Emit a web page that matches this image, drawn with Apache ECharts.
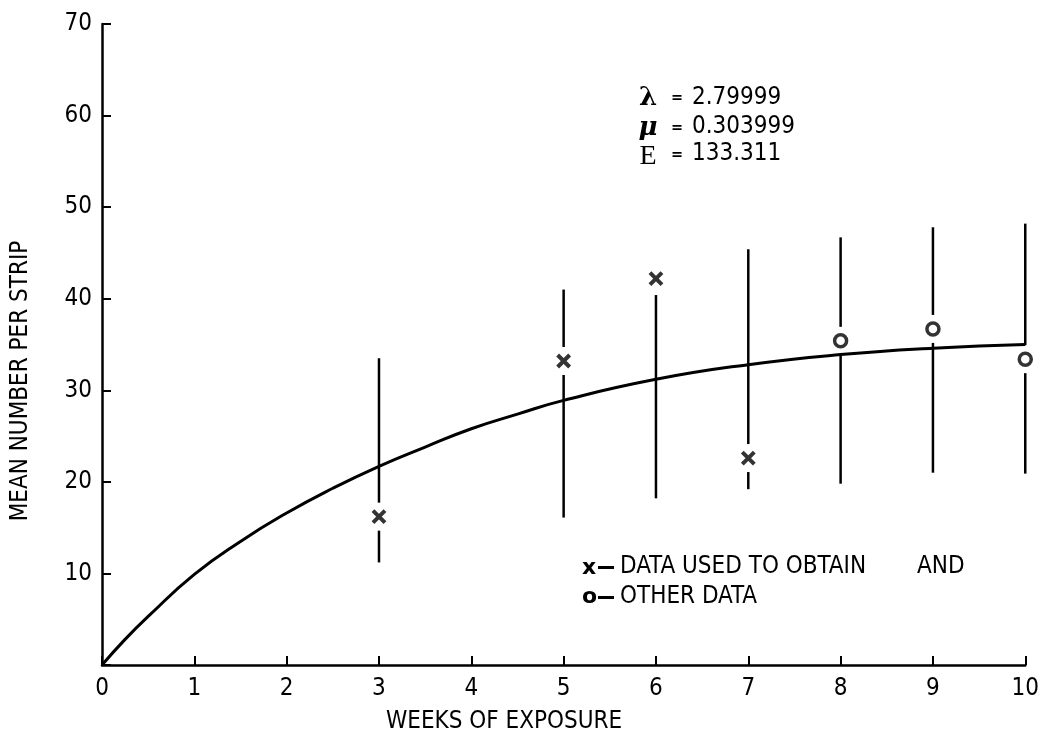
<!DOCTYPE html>
<html>
<head>
<meta charset="utf-8">
<script src="https://cdn.jsdelivr.net/npm/echarts@6/dist/echarts.min.js"></script>
<style>
  html, body { margin: 0; padding: 0; background: #fff; }
  #chart { width: 1042px; height: 742px; }
</style>
</head>
<body>
<div id="chart"></div>
<script>
// fitted curve
const curveWeeks = [0, 0.25, 0.5, 1, 1.5, 2, 2.5, 3, 3.5, 4, 4.5, 5, 6, 7, 8, 9, 10]
const curveMeans = [0, 2.8, 5.3, 9.9, 13.5, 16.6, 19.3, 21.7, 23.8, 25.8, 27.4, 28.9, 31.2, 32.8, 33.9, 34.6, 35.0]

// x - data used to obtain the fit
const usedWeeks = [3, 5, 6, 7]
const usedMeans = [16.2, 33.2, 42.2, 22.6]

// o - other data
const otherWeeks = [8, 9, 10]
const otherMeans = [35.4, 36.7, 33.4]

// vertical range bars
const barWeeks = [3, 5, 6, 7, 8, 9, 10]
const barLow = [11.2, 16.1, 18.2, 19.2, 19.8, 21.0, 20.9]
const barHigh = [33.5, 41.0, 40.4, 45.4, 46.7, 47.8, 48.2]

const xTicks = [0, 1, 2, 3, 4, 5, 6, 7, 8, 9, 10]
const yTicks = [0, 10, 20, 30, 40, 50, 60, 70]

const FONT = "'Liberation Sans Narrow', 'DejaVu Sans Condensed', 'Roboto Condensed', sans-serif"

const chart = echarts.init(document.getElementById('chart'), null, { renderer: 'canvas' })

// mean value at each bar, so the bar can leave a gap around the marker
const meanAt = w => {
  const i = usedWeeks.indexOf(w)
  return i >= 0 ? usedMeans[i] : otherMeans[otherWeeks.indexOf(w)]
}
const barData = barWeeks.map((w, i) => [w, barLow[i], barHigh[i], meanAt(w)])

const GAP = 14

const option = {
  animation: false,
  backgroundColor: '#fff',
  grid: { left: 102, right: 13, top: 24, bottom: 77, containLabel: false },
  xAxis: {
    type: 'value',
    min: xTicks[0],
    max: xTicks[xTicks.length - 1],
    interval: 1,
    axisLine: { onZero: false, lineStyle: { color: '#000', width: 2.5 } },
    axisTick: { inside: true, length: 9, lineStyle: { color: '#000', width: 2 } },
    axisLabel: { color: '#000', fontFamily: FONT, fontSize: 24, margin: 12 },
    splitLine: { show: false }
  },
  yAxis: {
    type: 'value',
    min: yTicks[0],
    max: yTicks[yTicks.length - 1],
    interval: 10,
    axisLine: { show: true, onZero: false, lineStyle: { color: '#000', width: 2.5 } },
    axisTick: { show: true, inside: true, length: 9, lineStyle: { color: '#000', width: 2 } },
    axisLabel: {
      color: '#000', fontFamily: FONT, fontSize: 24, margin: 10,
      formatter: v => (v === 0 ? '' : String(v))
    },
    splitLine: { show: false }
  },
  graphic: [
    {
      type: 'text', x: 21, y: 381, rotation: Math.PI / 2,
      style: { text: 'MEAN NUMBER PER STRIP', font: '24px ' + FONT, fill: '#000', align: 'center', verticalAlign: 'middle' }
    },
    {
      type: 'text', x: 504, y: 722,
      style: { text: 'WEEKS OF EXPOSURE', font: '24px ' + FONT, fill: '#000', align: 'center', verticalAlign: 'middle' }
    },
    // parameters
    { type: 'text', x: 648, y: 98, style: { text: 'λ', font: 'bold 26px "DejaVu Serif", serif', fill: '#000', align: 'center', verticalAlign: 'middle' } },
    { type: 'text', x: 648, y: 128, style: { text: 'μ', font: 'bold italic 26px "DejaVu Serif", serif', fill: '#000', align: 'center', verticalAlign: 'middle' } },
    { type: 'text', x: 648, y: 157, style: { text: 'E', font: '28px "Liberation Serif", serif', fill: '#000', align: 'center', verticalAlign: 'middle' } },
    { type: 'text', x: 677, y: 98, style: { text: '=', font: 'bold 16px ' + FONT, fill: '#000', align: 'center', verticalAlign: 'middle' } },
    { type: 'text', x: 677, y: 128, style: { text: '=', font: 'bold 16px ' + FONT, fill: '#000', align: 'center', verticalAlign: 'middle' } },
    { type: 'text', x: 677, y: 155, style: { text: '=', font: 'bold 16px ' + FONT, fill: '#000', align: 'center', verticalAlign: 'middle' } },
    { type: 'text', x: 692, y: 98, style: { text: '2.79999', font: '24px ' + FONT, fill: '#000', verticalAlign: 'middle' } },
    { type: 'text', x: 692, y: 127, style: { text: '0.303999', font: '24px ' + FONT, fill: '#000', verticalAlign: 'middle' } },
    { type: 'text', x: 692, y: 154, style: { text: '133.311', font: '24px ' + FONT, fill: '#000', verticalAlign: 'middle' } },
    // key
    { type: 'text', x: 582, y: 568, style: { text: 'x', font: 'bold 22px "DejaVu Sans", sans-serif', fill: '#000', verticalAlign: 'middle' } },
    { type: 'text', x: 582, y: 597, style: { text: 'o', font: 'bold 22px "DejaVu Sans", sans-serif', fill: '#000', verticalAlign: 'middle' } },
    { type: 'rect', shape: { x: 598, y: 566, width: 16, height: 3 }, style: { fill: '#000' } },
    { type: 'rect', shape: { x: 598, y: 596, width: 16, height: 3 }, style: { fill: '#000' } },
    { type: 'text', x: 620, y: 567, style: { text: 'DATA USED TO OBTAIN', font: '24px ' + FONT, fill: '#000', verticalAlign: 'middle' } },
    { type: 'text', x: 917, y: 567, style: { text: 'AND', font: '24px ' + FONT, fill: '#000', verticalAlign: 'middle' } },
    { type: 'text', x: 620, y: 597, style: { text: 'OTHER DATA', font: '24px ' + FONT, fill: '#000', verticalAlign: 'middle' } }
  ],
  series: [
    {
      name: 'range',
      type: 'custom',
      data: barData,
      z: 2,
      renderItem: (params, api) => {
        const x = api.coord([api.value(0), 0])[0]
        const yLow = api.coord([0, api.value(1)])[1]
        const yHigh = api.coord([0, api.value(2)])[1]
        const yMark = api.coord([0, api.value(3)])[1]
        const style = { stroke: '#000', lineWidth: 2.5 }
        const children = []
        // part above the marker
        if (yHigh < yMark - GAP) {
          children.push({ type: 'line', shape: { x1: x, y1: yHigh, x2: x, y2: yMark - GAP }, style })
        }
        // part below the marker
        const top = Math.max(yMark + GAP, yHigh)
        if (yLow > top) {
          children.push({ type: 'line', shape: { x1: x, y1: top, x2: x, y2: yLow }, style })
        }
        return { type: 'group', children }
      }
    },
    {
      name: 'fit',
      type: 'line',
      data: curveWeeks.map((w, i) => [w, curveMeans[i]]),
      smooth: true,
      showSymbol: false,
      lineStyle: { color: '#000', width: 3 },
      z: 3
    },
    {
      name: 'used',
      type: 'scatter',
      data: usedWeeks.map((w, i) => [w, usedMeans[i]]),
      symbol: 'path://M0,0L10,10M10,0L0,10',
      symbolSize: [12, 12],
      itemStyle: { color: 'rgba(0,0,0,0)', borderColor: '#000', borderWidth: 4 },
      z: 4
    },
    {
      name: 'other',
      type: 'scatter',
      data: otherWeeks.map((w, i) => [w, otherMeans[i]]),
      symbol: 'circle',
      symbolSize: 12,
      itemStyle: { color: '#fff', borderColor: '#000', borderWidth: 3.5 },
      z: 4
    }
  ]
}

chart.setOption(option)
window.addEventListener('resize', () => chart.resize())
</script>
</body>
</html>
